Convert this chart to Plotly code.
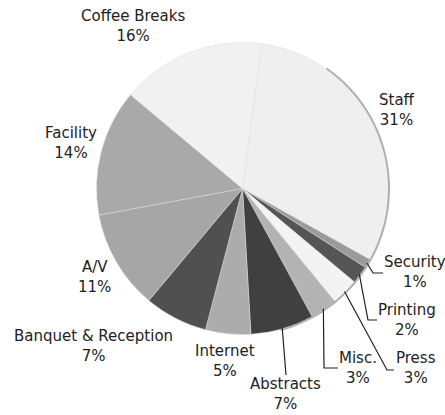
import math
import plotly.graph_objects as go

# ---- data ----
labels = ["Staff", "Security", "Printing", "Press", "Misc.", "Abstracts",
          "Internet", "Banquet & Reception", "A/V", "Facility", "Coffee Breaks"]
values = [31, 1, 2, 3, 3, 7, 5, 7, 11, 14, 16]
colors = ["#efefef", "#9a9a9a", "#555555", "#f3f3f3", "#b3b3b3", "#404040",
          "#acacac", "#505050", "#a6a6a6", "#a9a9a9", "#f1f1f1"]

# ---- layout (pixels) ----
W, H = 445, 415
CX, CY, R = 242.5, 188.5, 146
ROT = 7.5

def px(x):
    return x / W

def py(y):
    return 1 - y / H

# label block centres (pixel positions)
label_pos = {
    "Coffee Breaks": (133, 26),
    "Staff": (397, 110),
    "Facility": (71, 143),
    "A/V": (94, 277),
    "Banquet & Reception": (93, 346),
    "Internet": (225, 361),
    "Abstracts": (285, 394),
    "Misc.": (358, 368),
    "Press": (416, 368),
    "Printing": (407, 320),
    "Security": (415, 272),
}
# leader line elbow/end points for small slices
leaders = {
    "Security": [(373, 273), (383, 273)],
    "Printing": [(368, 320), (377, 320)],
    "Press": [(387, 370), (394, 370)],
    "Misc.": [(324, 368), (338, 368)],
    "Abstracts": [(286, 375)],
}

fig = go.Figure()
fig.add_trace(go.Pie(
    labels=labels, values=values, sort=False, direction="clockwise",
    rotation=ROT, textinfo="none", hoverinfo="label+percent",
    marker=dict(colors=colors, line=dict(color="#dcdcdc", width=0.5)),
    domain=dict(x=[px(CX - R), px(CX + R)], y=[py(CY + R), py(CY - R)]),
    showlegend=False,
))

total = sum(values)
annotations = []
shapes = []
cum = 0
for lab, v in zip(labels, values):
    mid = ROT + (cum + v / 2) / total * 360
    cum += v
    x, y = label_pos[lab]
    pct = round(v / total * 100)
    annotations.append(dict(
        x=px(x), y=py(y), xref="paper", yref="paper",
        text=f"{lab}<br>{pct}%", showarrow=False,
        xanchor="center", yanchor="middle", align="center",
        font=dict(family="DejaVu Sans, Verdana, sans-serif", size=15, color="#222222"),
    ))
    if lab in leaders:
        a = math.radians(mid)
        sx = CX + (R - 1) * math.sin(a)
        sy = CY - (R - 1) * math.cos(a)
        pts = [(sx, sy)] + leaders[lab]
        path = "M " + " L ".join(f"{px(p[0])},{py(p[1])}" for p in pts)
        shapes.append(dict(type="path", xref="paper", yref="paper", path=path,
                           line=dict(color="#222222", width=1.2)))

# grey rim on the lower right edge
arc = []
for k in range(0, 61):
    a = math.radians(35 + k * (130 / 60))
    arc.append((CX + (R + 0.5) * math.sin(a), CY - (R + 0.5) * math.cos(a)))
shapes.insert(0, dict(type="path", xref="paper", yref="paper",
                      path="M " + " L ".join(f"{px(p[0])},{py(p[1])}" for p in arc),
                      line=dict(color="#b0b0b0", width=2)))

fig.update_layout(
    width=W, height=H, margin=dict(l=0, r=0, t=0, b=0),
    paper_bgcolor="white", plot_bgcolor="white",
    annotations=annotations, shapes=shapes,
)
fig.write_html("out.html", config={"displayModeBar": False},
               post_script="document.body.style.margin='0';document.body.style.overflow='hidden';")
